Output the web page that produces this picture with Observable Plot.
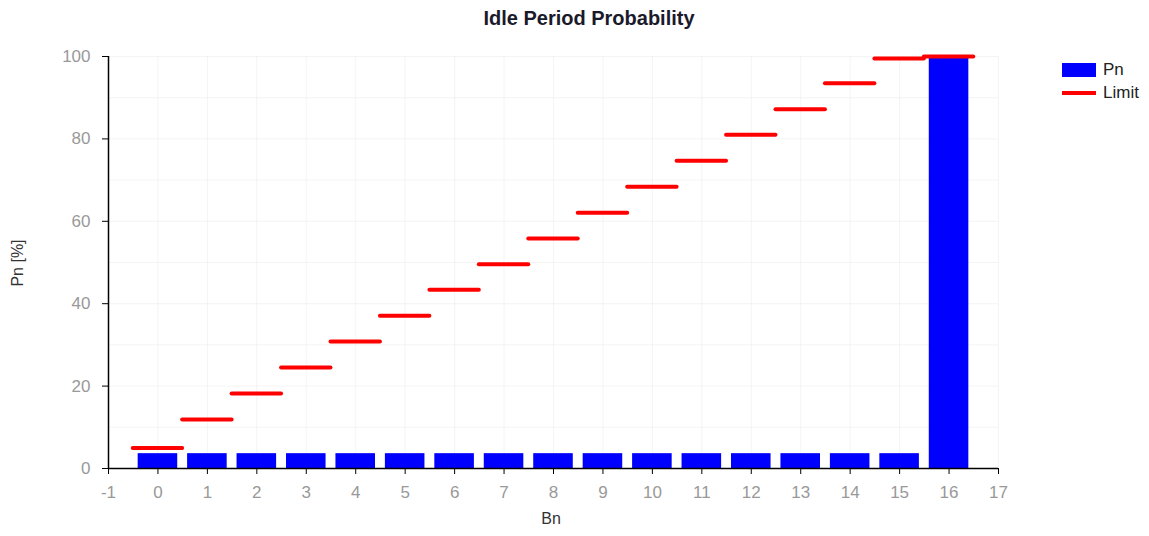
<!DOCTYPE html>
<html>
<head>
<meta charset="utf-8">
<script src="https://cdn.jsdelivr.net/npm/d3@7"></script>
<script src="https://cdn.jsdelivr.net/npm/@observablehq/plot@0.6"></script>
<style>
  body { margin: 0; background: #fff; font-family: "Liberation Sans", Arial, sans-serif; }
  #wrap { position: relative; width: 1149px; height: 536px; }
  #wrap svg { position: absolute; left: 0; top: 0; }
  .abs { position: absolute; white-space: nowrap; }
  #title { left: 589px; top: 18px; transform: translate(-50%, -50%); font-weight: bold; font-size: 20px; color: #1a1a2a; }
  #ylab { left: 18px; top: 263px; transform: translate(-50%, -50%) rotate(-90deg); font-size: 16px; color: #333; }
  #xlab { left: 551px; top: 519px; transform: translate(-50%, -50%); font-size: 16px; color: #333; }
  .legsw { position: absolute; left: 1062px; width: 34px; }
  .legtx { position: absolute; left: 1103px; font-size: 17px; color: #222; transform: translateY(-50%); }
</style>
</head>
<body>
<div id="wrap">
  <div id="title" class="abs">Idle Period Probability</div>
  <div id="ylab" class="abs">Pn [%]</div>
  <div id="xlab" class="abs">Bn</div>
  <div class="legsw" style="top:63px;height:14px;background:#0000ff"></div>
  <div class="legtx" style="top:70px">Pn</div>
  <div class="legsw" style="top:91px;height:4px;background:#ff0000"></div>
  <div class="legtx" style="top:93px">Limit</div>
</div>
<script>
const bn = [0, 1, 2, 3, 4, 5, 6, 7, 8, 9, 10, 11, 12, 13, 14, 15, 16];
const pn = [3.6, 3.6, 3.6, 3.6, 3.6, 3.6, 3.6, 3.6, 3.6, 3.6, 3.6, 3.6, 3.6, 3.6, 3.6, 3.6, 100];
const limit = [5.0, 11.9, 18.2, 24.5, 30.8, 37.1, 43.4, 49.6, 55.8, 62.1, 68.4, 74.7, 81.0, 87.2, 93.5, 99.5, 100];
const xTicks = [-1, 0, 1, 2, 3, 4, 5, 6, 7, 8, 9, 10, 11, 12, 13, 14, 15, 16, 17];
const yTicks = [0, 20, 40, 60, 80, 100];
const yGrid = [10, 20, 30, 40, 50, 60, 70, 80, 90, 100];

const data = bn.map((b, i) => ({bn: b, pn: pn[i], limit: limit[i]}));

const chart = Plot.plot({
  width: 1149,
  height: 536,
  marginLeft: 108,
  marginRight: 151,
  marginTop: 56,
  marginBottom: 68,
  style: {fontFamily: "'Liberation Sans', Arial, sans-serif", fontSize: "17px", background: "transparent"},
  x: {domain: [-1, 17]},
  y: {domain: [0, 100]},
  marks: [
    Plot.gridX(xTicks.slice(1), {stroke: "#e6e6e6", strokeOpacity: 0.45}),
    Plot.gridY(yGrid, {stroke: "#e6e6e6", strokeOpacity: 0.45}),
    Plot.rectY(data, {x1: d => d.bn - 0.4, x2: d => d.bn + 0.4, y1: 0, y2: "pn", fill: "#0000ff"}),
    Plot.ruleY(data, {x1: d => d.bn - 0.5, x2: d => d.bn + 0.5, y: "limit", stroke: "#ff0000", strokeWidth: 4, strokeLinecap: "round"}),
    Plot.axisX({ticks: xTicks, tickSize: 6, tickPadding: 11, tickFormat: d => String(d), color: "#999", stroke: "#000", label: null}),
    Plot.axisY({ticks: yTicks, tickSize: 6, tickPadding: 12, tickFormat: d => String(d), color: "#999", stroke: "#000", label: null}),
    Plot.ruleY([0], {stroke: "#000", strokeWidth: 1.5}),
    Plot.ruleX([-1], {stroke: "#000", strokeWidth: 1.5})
  ]
});
document.getElementById("wrap").prepend(chart);
</script>
</body>
</html>
